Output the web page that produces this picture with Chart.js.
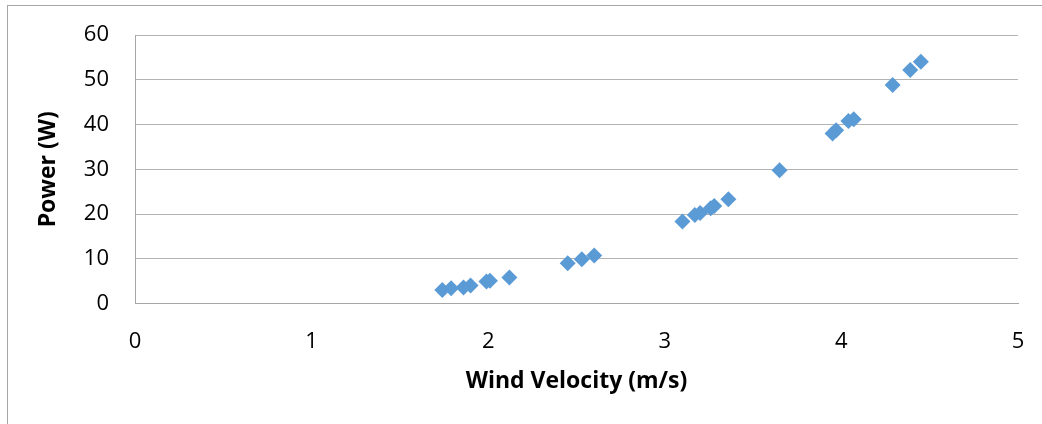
<!DOCTYPE html>
<html>
<head>
<meta charset="utf-8">
<script src="https://cdn.jsdelivr.net/npm/chart.js@4/dist/chart.umd.min.js"></script>
<style>
  html, body { margin: 0; padding: 0; background: #fff; }
  #chart { display: block; }
</style>
</head>
<body>
<canvas id="chart" width="1042" height="424"></canvas>
<script>
// readings
const windVelocity = [1.74, 1.79, 1.86, 1.90, 1.99, 2.01, 2.12, 2.45, 2.53, 2.60,
  3.10, 3.17, 3.20, 3.26, 3.28, 3.36, 3.65, 3.95, 3.97, 4.04, 4.07, 4.29, 4.39, 4.45];
const power = [3.0, 3.4, 3.6, 4.0, 4.9, 5.1, 5.8, 9.0, 9.9, 10.7,
  18.3, 19.8, 20.2, 21.3, 21.8, 23.3, 29.8, 38.0, 38.7, 40.8, 41.2, 48.8, 52.2, 54.0];
const xTicks = [0, 1, 2, 3, 4, 5];
const yTicks = [0, 10, 20, 30, 40, 50, 60];

const points = windVelocity.map((v, i) => ({ x: v, y: power[i] }));

// outer frame of the chart box
const framePlugin = {
  id: 'frame',
  beforeDraw(chart) {
    const ctx = chart.ctx;
    ctx.save();
    ctx.fillStyle = '#fff';
    ctx.fillRect(0, 0, chart.width, chart.height);
    ctx.strokeStyle = '#a6a6a6';
    ctx.lineWidth = 1;
    ctx.strokeRect(7.5, 5.5, 1200, 600);
    ctx.restore();
  }
};

new Chart(document.getElementById('chart'), {
  type: 'scatter',
  data: {
    datasets: [{
      data: points,
      pointStyle: 'rectRot',
      pointRadius: 8,
      pointHoverRadius: 8,
      backgroundColor: '#5b9bd5',
      borderColor: '#5b9bd5',
      borderWidth: 0
    }]
  },
  options: {
    responsive: false,
    animation: false,
    layout: { padding: { left: 0, right: 24, top: 35, bottom: 0 } },
    plugins: { legend: { display: false }, tooltip: { enabled: false } },
    scales: {
      x: {
        type: 'linear',
        min: xTicks[0],
        max: xTicks[xTicks.length - 1],
        afterBuildTicks: s => { s.ticks = xTicks.map(v => ({ value: v })); },
        afterFit: s => { s.height = 120.5; s.paddingLeft = 0; s.paddingRight = 0; },
        grid: { display: false, drawTicks: false },
        border: { display: true, color: '#a6a6a6', width: 1 },
        ticks: { padding: 25, color: '#000', font: { family: 'Open Sans', size: 22 } },
        title: {
          display: true, text: 'Wind Velocity (m/s)', color: '#000',
          font: { family: 'Open Sans', size: 23, weight: 'bold' },
          padding: { top: 0, bottom: 29 }
        }
      },
      y: {
        type: 'linear',
        min: yTicks[0],
        max: yTicks[yTicks.length - 1],
        afterBuildTicks: s => { s.ticks = yTicks.map(v => ({ value: v })); },
        afterFit: s => { s.width = 135; s.paddingTop = 0; s.paddingBottom = 0; },
        grid: { color: '#b3b3b3', lineWidth: 1, drawTicks: false },
        border: { display: true, color: '#a6a6a6', width: 1 },
        ticks: { padding: 26, color: '#000', font: { family: 'Open Sans', size: 22 } },
        title: {
          display: true, text: 'Power (W)', color: '#000',
          font: { family: 'Open Sans', size: 23, weight: 'bold' },
          padding: { top: 35, bottom: 0 }
        }
      }
    }
  },
  plugins: [framePlugin]
});
</script>
</body>
</html>
